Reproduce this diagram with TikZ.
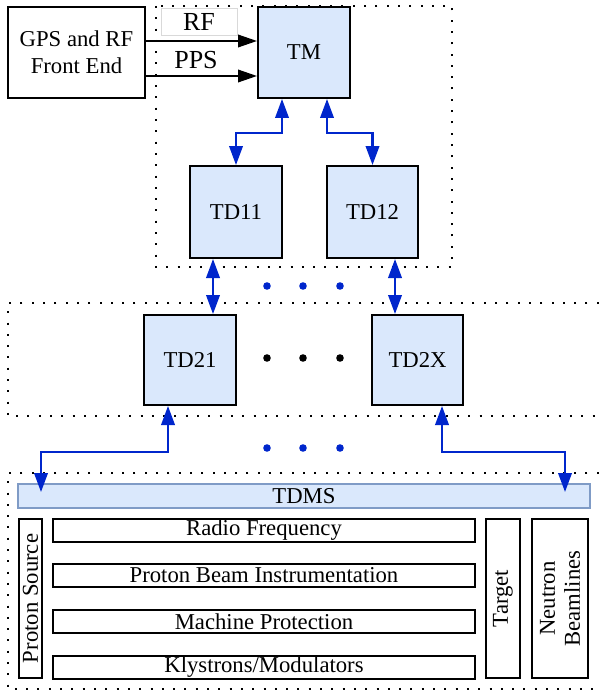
\documentclass[tikz,border=0pt]{standalone}
\usepackage{fontspec}
\setmainfont{Liberation Serif}
\usetikzlibrary{arrows.meta}
\definecolor{fillblue}{HTML}{DAE8FC}
\definecolor{lineblue}{HTML}{0026CC}
\definecolor{tdmsborder}{HTML}{7F9BC6}
\begin{document}
\begin{tikzpicture}[x=1pt,y=-1pt,
  every node/.style={font=\fontsize{22.7}{27}\selectfont, inner sep=0pt},
  box/.style={draw=black, line width=2pt, fill=white, align=center},
  bluebox/.style={box, fill=fillblue},
  dotline/.style={line width=2pt, dash pattern=on 2pt off 9.3pt},
  blk/.style={line width=2pt, -{Triangle[length=19pt,width=12.5pt]}},
  bl/.style={draw=lineblue, line width=2.2pt, {Triangle[length=19pt,width=13.5pt]}-{Triangle[length=19pt,width=13.5pt]}},
  bigdot/.style={circle, minimum size=7.6pt, inner sep=0pt},
  lbl/.style={font=\fontsize{26}{30}\selectfont, text height=17pt, text depth=0pt},
]
\useasboundingbox (0,0) rectangle (598,690);

% dotted group boxes
\draw[dotline] (156,6) rectangle (452,267);
\draw[dotline] (610,303) -- (8,303) -- (8,416) -- (610,416);
\draw[dotline] (610,473) -- (8,473) -- (8,689) -- (610,689);

% top part
\node[box, minimum width=137pt, minimum height=91pt, font=\fontsize{22.7}{27}\selectfont] (GPS) at (76.5,52.5) {GPS and RF\\Front End};
\node[bluebox, minimum width=92pt, minimum height=91pt] (TM) at (304,52.5) {TM};
\node[draw=gray!30, line width=0.8pt, fill=white, minimum width=76pt, minimum height=27pt, lbl] (RFlab) at (199,22) {RF};
\node[lbl] (PPSlab) at (196,60) {PPS};

\draw[blk] ([yshift=11.5pt]GPS.east) -- ([yshift=11.5pt]TM.west);
\draw[blk] ([yshift=-23.5pt]GPS.east) -- ([yshift=-23.5pt]TM.west);

\node[bluebox, minimum width=92pt, minimum height=92pt] (TD11) at (236,212) {TD11};
\node[bluebox, minimum width=91pt, minimum height=92pt] (TD12) at (372.5,212) {TD12};

\draw[bl] ([xshift=-22pt]TM.south) -- ++(0,34) -| (TD11.north);
\draw[bl] ([xshift=23pt]TM.south) -- ++(0,34) -| (TD12.north);

% second level
\node[bluebox, minimum width=92pt, minimum height=90pt] (TD21) at (190,360) {TD21};
\node[bluebox, minimum width=91pt, minimum height=90pt] (TD2X) at (417.5,360) {TD2X};

\draw[bl] ([xshift=-23pt]TD11.south) -- ([xshift=-23pt]TD11.south |- TD21.north);
\draw[bl] ([xshift=22.5pt]TD12.south) -- ([xshift=22.5pt]TD12.south |- TD2X.north);

% dots
\node[bigdot, fill=lineblue] (u1) at (267,286) {};
\node[bigdot, fill=lineblue] (u2) at (303,286) {};
\node[bigdot, fill=lineblue] (u3) at (340,286) {};
\node[bigdot, fill=black] (m1) at (267,358) {};
\node[bigdot, fill=black] (m2) at (303,358) {};
\node[bigdot, fill=black] (m3) at (340,358) {};
\node[bigdot, fill=lineblue] (l1) at (267,448) {};
\node[bigdot, fill=lineblue] (l2) at (303,448) {};
\node[bigdot, fill=lineblue] (l3) at (340,448) {};

% TDMS
\node[draw=tdmsborder, line width=1.5pt, fill=fillblue, minimum width=572pt, minimum height=24pt] (TDMS) at (304,496) {TDMS};
\coordinate (tL) at (41,492);
\coordinate (tR) at (565,492);
\draw[bl] ([xshift=-22pt]TD21.south) -- ++(0,46) -| (tL);
\draw[bl] ([xshift=24.5pt]TD2X.south) -- ++(0,46) -| (tR);

% bottom systems
\node[box, rotate=90, minimum width=159pt, minimum height=23pt] (PS) at (30.5,598.5) {Proton Source};
\node[box, minimum width=422pt, minimum height=23pt] (RFq) at (264,530.5) {Radio Frequency};
\node[box, minimum width=422pt, minimum height=23pt] (PBI) at (264,575.5) {Proton Beam Instrumentation};
\node[box, minimum width=422pt, minimum height=23pt] (MP) at (264,621.5) {Machine Protection};
\node[box, minimum width=422pt, minimum height=23pt] (KM) at (264,667) {Klystrons/Modulators};
\node[box, rotate=90, minimum width=159pt, minimum height=34pt] (TG) at (503,598.5) {Target};
\node[box, rotate=90, minimum width=159pt, minimum height=56pt, font=\fontsize{22.7}{25}\selectfont] (NB) at (560,598.5) {Neutron\\Beamlines};
\end{tikzpicture}
\end{document}
